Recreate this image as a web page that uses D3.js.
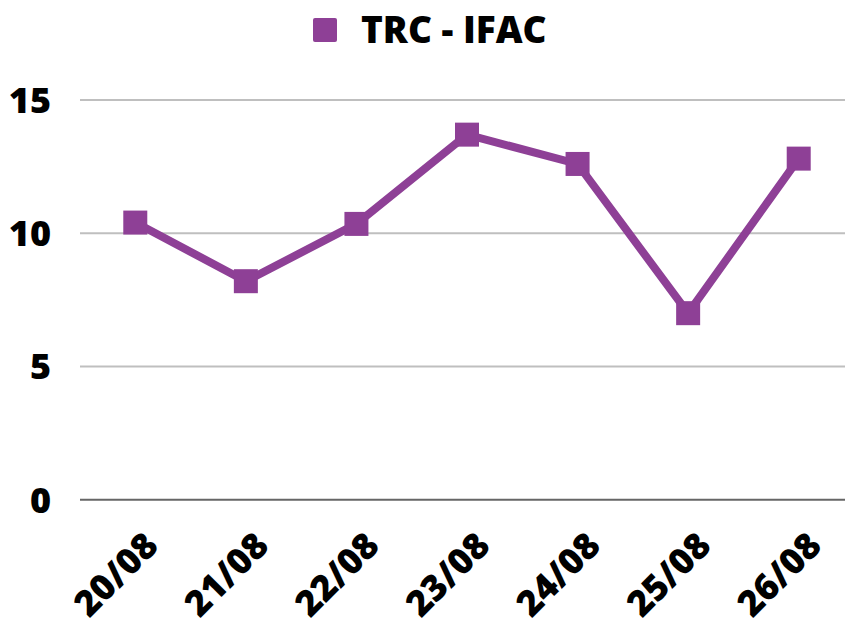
<!DOCTYPE html>
<html>
<head>
<meta charset="utf-8">
<script src="https://d3js.org/d3.v7.min.js"></script>
<style>
  body { margin: 0; background: #fff; }
  text { font-family: "Open Sans", sans-serif; font-weight: 800; fill: #000; }
</style>
</head>
<body>
<script>
var seriesName = "TRC - IFAC";
var days = ["20/08", "21/08", "22/08", "23/08", "24/08", "25/08", "26/08"];
var values = [10.4, 8.2, 10.35, 13.7, 12.6, 7.0, 12.8];
var yTicks = [0, 5, 10, 15];

var w = 845, h = 621;
var color = "#8e4096";

var svg = d3.select("body").append("svg")
  .attr("width", w)
  .attr("height", h);

var x = d3.scalePoint()
  .domain(days)
  .range([80, 854])
  .padding(0.5);

var y = d3.scaleLinear()
  .domain([0, 15])
  .range([499.7, 100]);

// gridlines
svg.append("g")
  .selectAll("line")
  .data(yTicks)
  .enter()
  .append("line")
  .attr("x1", 80)
  .attr("x2", w)
  .attr("y1", function(d) { return y(d); })
  .attr("y2", function(d) { return y(d); })
  .attr("stroke", function(d) { return d === 0 ? "#666" : "#bfbfbf"; })
  .attr("stroke-width", 2);

// y labels
svg.append("g")
  .selectAll("text")
  .data(yTicks)
  .enter()
  .append("text")
  .attr("x", 51)
  .attr("y", function(d) { return y(d); })
  .attr("dy", "0.36em")
  .attr("text-anchor", "end")
  .style("font-size", "36px")
  .text(function(d) { return d; });

// x labels
svg.append("g")
  .selectAll("text")
  .data(days)
  .enter()
  .append("text")
  .attr("text-anchor", "end")
  .attr("transform", function(d) {
    return "translate(" + (x(d) + 7) + ",530) rotate(-45)";
  })
  .attr("dy", "0.7em")
  .style("font-size", "36px")
  .text(function(d) { return d; });

// line
var line = d3.line()
  .x(function(d, i) { return x(days[i]); })
  .y(function(d) { return y(d); });

svg.append("path")
  .datum(values)
  .attr("d", line)
  .attr("fill", "none")
  .attr("stroke", color)
  .attr("stroke-width", 8)
  .attr("stroke-linejoin", "miter");

svg.append("g")
  .selectAll("rect")
  .data(values)
  .enter()
  .append("rect")
  .attr("x", function(d, i) { return x(days[i]) - 12; })
  .attr("y", function(d) { return y(d) - 12; })
  .attr("width", 24)
  .attr("height", 24)
  .attr("fill", color);

// legend
var legend = svg.append("g");
legend.append("rect")
  .attr("x", 313)
  .attr("y", 18)
  .attr("width", 24)
  .attr("height", 24)
  .attr("rx", 2)
  .attr("fill", color);
legend.append("text")
  .attr("x", 361)
  .attr("y", 43)
  .style("font-size", "37px")
  .text(seriesName);
</script>
</body>
</html>
